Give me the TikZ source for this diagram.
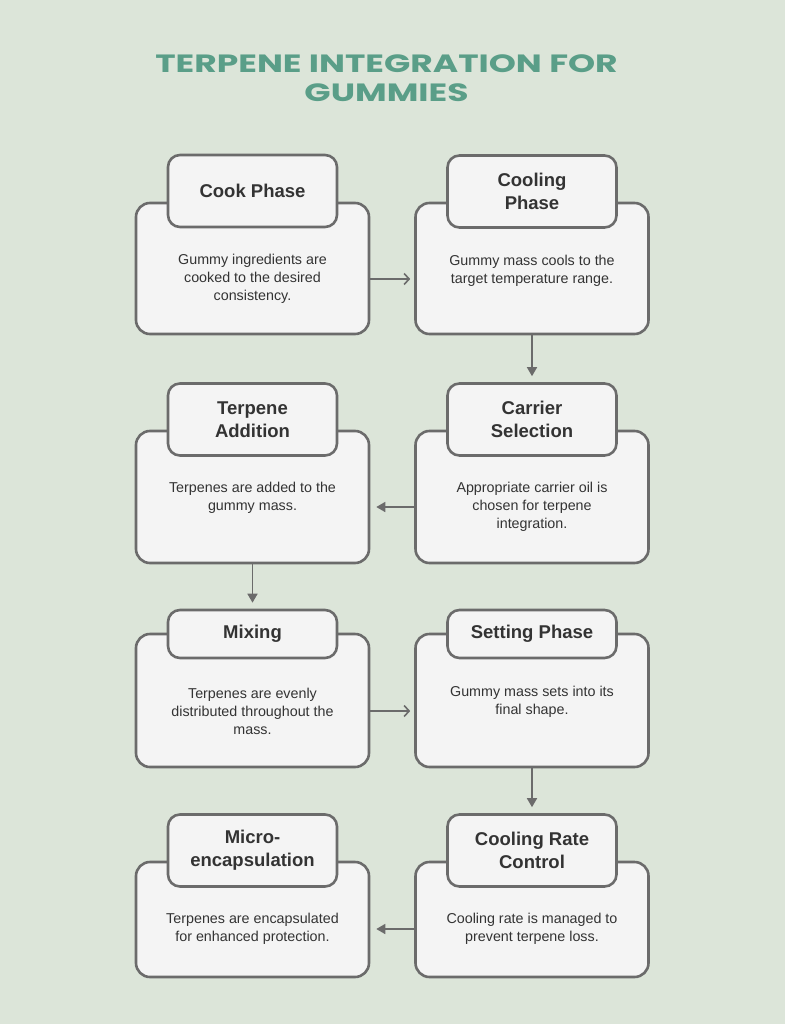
\documentclass[tikz,border=0pt]{standalone}
\usepackage{graphicx}
\usepackage{fontspec}
\setmainfont{Liberation Sans}
\newfontfamily\titlefont{Poppins}
\usetikzlibrary{arrows.meta}
\definecolor{bg}{HTML}{DCE5D9}
\definecolor{boxfill}{HTML}{F4F4F4}
\definecolor{boxline}{HTML}{6B6B6B}
\definecolor{titlec}{HTML}{5A9E88}
\definecolor{txt}{HTML}{333333}
\tikzset{
  bigbox/.style={draw=boxline, fill=boxfill, line width=2.6pt, rounded corners=14pt, minimum width=233pt, inner sep=0pt},
  tabbox/.style={draw=boxline, fill=boxfill, line width=2.6pt, rounded corners=12pt, minimum width=169pt, inner sep=0pt, font=\fontsize{18.5}{23}\selectfont\bfseries, text=txt, align=center},
  body/.style={font=\fontsize{14.3}{18}\selectfont, text=txt, align=center},
  openarr/.style={draw=boxline, line width=1.6pt, -{Straight Barb[length=5pt,width=11pt,line width=1.6pt]}, shorten >=4pt},
  fillarr/.style={draw=boxline, line width=1.6pt, -{Triangle[length=9pt,width=10pt]}, shorten >=6pt},
  titlestyle/.style={font=\titlefont\bfseries\fontsize{25}{29}\selectfont, text=titlec, align=center},
}
\begin{document}
\begin{tikzpicture}[x=1pt,y=-1pt]
\fill[bg] (0,0) rectangle (785,1024);
\useasboundingbox (0,0) rectangle (785,1024);

\node[titlestyle] (title) at (386.5,78.5) {\scalebox{1.38}[1]{TERPENE INTEGRATION FOR}\\\scalebox{1.38}[1]{GUMMIES}};

% Row 1
\node[bigbox, minimum height=131pt] (b1) at (252.5,268.5) {};
\node[tabbox, minimum height=72pt] (t1) at (252.5,191) {Cook Phase};
\node[body] (d1) at (252.5,279) {Gummy ingredients are\\cooked to the desired\\consistency.};

\node[bigbox, minimum height=131pt] (b2) at (532,268.5) {};
\node[tabbox, minimum height=72pt] (t2) at (532,191.5) {Cooling\\Phase};
\node[body] (d2) at (532,270.5) {Gummy mass cools to the\\target temperature range.};

% Row 2
\node[bigbox, minimum height=132pt] (b3) at (532,497) {};
\node[tabbox, minimum height=72pt] (t3) at (532,419.5) {Carrier\\Selection};
\node[body] (d3) at (532,507) {Appropriate carrier oil is\\chosen for terpene\\integration.};

\node[bigbox, minimum height=132pt] (b4) at (252.5,497) {};
\node[tabbox, minimum height=72pt] (t4) at (252.5,419.5) {Terpene\\Addition};
\node[body] (d4) at (252.5,498) {Terpenes are added to the\\gummy mass.};

% Row 3
\node[bigbox, minimum height=133pt] (b5) at (252.5,700.5) {};
\node[tabbox, minimum height=48pt] (t5) at (252.5,634) {Mixing};
\node[body] (d5) at (252.5,711) {Terpenes are evenly\\distributed throughout the\\mass.};

\node[bigbox, minimum height=133pt] (b6) at (532,700.5) {};
\node[tabbox, minimum height=48pt] (t6) at (532,634) {Setting Phase};
\node[body] (d6) at (532,702) {Gummy mass sets into its\\final shape.};

% Row 4
\node[bigbox, minimum height=115pt] (b7) at (532,919.5) {};
\node[tabbox, minimum height=72pt] (t7) at (532,850.5) {Cooling Rate\\Control};
\node[body] (d7) at (532,929) {Cooling rate is managed to\\prevent terpene loss.};

\node[bigbox, minimum height=115pt] (b8) at (252.5,919.5) {};
\node[tabbox, minimum height=72pt] (t8) at (252.5,850.5) {Micro-\\encapsulation};
\node[body] (d8) at (252.5,929) {Terpenes are encapsulated\\for enhanced protection.};

% Connectors
\draw[openarr] (b1.east |- d1.center) -- (b2.west |- d1.center);
\draw[fillarr] (b2.south) -- (t3.north);
\draw[fillarr] (b3.west |- d3.center) -- (b4.east |- d3.center);
\draw[fillarr] (b4.south) -- (t5.north);
\draw[openarr] (b5.east |- d5.center) -- (b6.west |- d5.center);
\draw[fillarr] (b6.south) -- (t7.north);
\draw[fillarr] (b7.west |- d7.center) -- (b8.east |- d7.center);
\end{tikzpicture}
\end{document}
